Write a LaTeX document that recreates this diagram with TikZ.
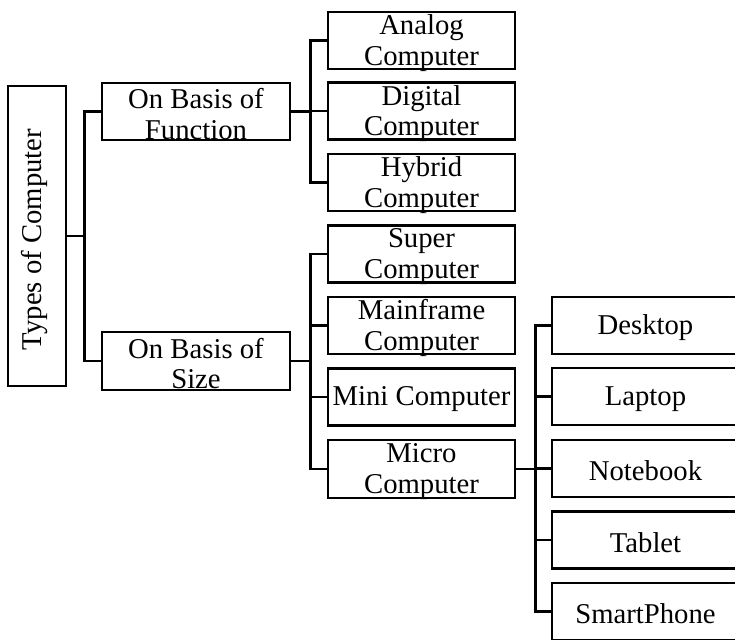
\documentclass[tikz,border=0pt]{standalone}
\usepackage{fontspec}
\setmainfont{Liberation Serif}
\begin{document}
\begin{tikzpicture}[x=1pt,y=-1pt,
  lw/.style={line width=2.8pt},
  box/.style={draw,lw,inner sep=0pt,minimum width=187pt,minimum height=57pt},
  txt/.style={inner sep=0pt,align=center,yshift=-2.5pt,font=\fontsize{28.7}{30.5}\selectfont},
  link/.style={lw,line join=miter,line cap=rect}]
\useasboundingbox (0,0) rectangle (735,639);
\clip (0,0) rectangle (735,639);
% root
\node[box,minimum width=58pt,minimum height=300pt] (T) at (37,236) {};
\node[txt,rotate=90,yshift=2.5pt,xshift=-1pt] (Tt) at (T) {Types of Computer};
% level 1
\node[box,minimum width=188pt] (F) at (196,111.5) {};
\node[txt] (Ft) at (F) {On Basis of\\Function};
\node[box,minimum width=188pt,minimum height=58pt] (S) at (196,361) {};
\node[txt] (St) at (S) {On Basis of\\Size};
% level 2
\node[box] (A) at (421.5,40.5) {};
\node[txt] (At) at (A) {Analog\\Computer};
\node[box] (D) at (421.5,111) {};
\node[txt] (Dt) at (D) {Digital\\Computer};
\node[box] (H) at (421.5,182.5) {};
\node[txt] (Ht) at (H) {Hybrid\\Computer};
\node[box] (Su) at (421.5,254) {};
\node[txt] (Sut) at (Su) {Super\\Computer};
\node[box] (Ma) at (421.5,325.5) {};
\node[txt] (Mat) at (Ma) {Mainframe\\Computer};
\node[box] (Mi) at (421.5,397) {};
\node[txt] (Mit) at (Mi) {Mini Computer};
\node[box,minimum height=58pt] (Mc) at (421.5,469) {};
\node[txt] (Mct) at (Mc) {Micro\\Computer};
% level 3
\node[box] (De) at (645.5,325.5) {};
\node[txt] (Det) at (De) {Desktop};
\node[box] (La) at (645.5,396.5) {};
\node[txt] (Lat) at (La) {Laptop};
\node[box] (No) at (645.5,468.5) {};
\node[txt] (Not) at (No) {Notebook};
\node[box] (Ta) at (645.5,540) {};
\node[txt] (Tat) at (Ta) {Tablet};
\node[box] (Sp) at (645.5,611.5) {};
\node[txt] (Spt) at (Sp) {SmartPhone};
% connectors
\foreach \c in {F,S} \draw[link] (T.east) -- ++(17,0) |- (\c.west);
\foreach \c in {A,D,H} \draw[link] (F.east) -- ++(19,0) |- (\c.west);
\foreach \c in {Su,Ma,Mi,Mc} \draw[link] (S.east) -- ++(19,0) |- (\c.west);
\foreach \c in {De,La,No,Ta,Sp} \draw[link] (Mc.east) -- ++(19,0) |- (\c.west);
\end{tikzpicture}
\end{document}
